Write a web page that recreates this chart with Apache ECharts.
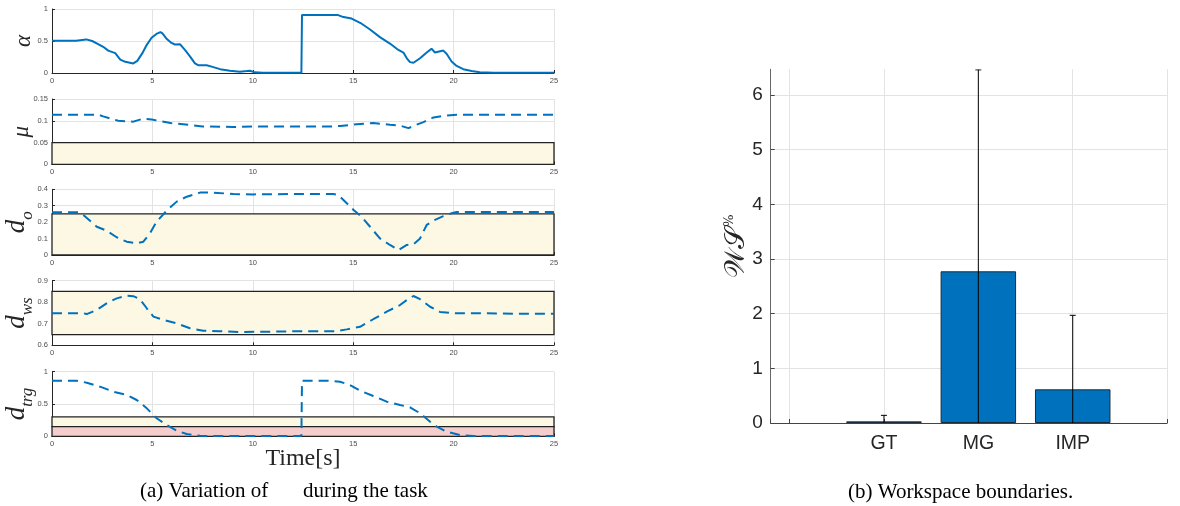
<!DOCTYPE html>
<html><head><meta charset="utf-8">
<script src="https://cdn.jsdelivr.net/npm/echarts@6/dist/echarts.min.js"></script>
<style>html,body{margin:0;padding:0;background:#fff}#c{width:1180px;height:506px}</style>
</head><body><div id="c"></div>
<script>
// ---------- data ----------
const timeTicks = [0, 5, 10, 15, 20, 25];
const alphaData = [[0,0.505],[1.2,0.505],[1.7,0.525],[2.0,0.5],[2.25,0.46],[2.55,0.41],[2.8,0.35],[3.15,0.31],[3.4,0.21],[3.65,0.175],[4.05,0.15],[4.25,0.19],[4.5,0.31],[4.72,0.44],[4.96,0.55],[5.2,0.61],[5.4,0.64],[5.5,0.62],[5.72,0.53],[5.95,0.47],[6.12,0.445],[6.37,0.45],[6.62,0.36],[6.87,0.26],[7.12,0.15],[7.3,0.12],[7.7,0.12],[7.95,0.1],[8.37,0.06],[8.86,0.035],[9.36,0.02],[9.7,0.03],[9.86,0.035],[10.1,0.01],[10.5,0.003],[12.42,0.003],[12.45,0.905],[14.25,0.905],[14.45,0.88],[14.92,0.85],[15.42,0.77],[15.84,0.68],[16.33,0.56],[16.83,0.46],[17.25,0.36],[17.5,0.32],[17.67,0.23],[17.83,0.17],[18.0,0.16],[18.33,0.23],[18.66,0.32],[18.9,0.38],[19.07,0.32],[19.49,0.35],[19.65,0.3],[19.9,0.18],[20.15,0.11],[20.48,0.06],[20.9,0.03],[21.3,0.01],[22,0.002],[25,0.002]];
const muData = [[0,0.114],[2.3,0.114],[2.55,0.11],[3.3,0.1],[4.05,0.098],[4.55,0.105],[4.96,0.103],[5.9,0.095],[6.9,0.09],[7.5,0.087],[9,0.0857],[10.3,0.087],[14.0,0.087],[14.35,0.088],[15.17,0.092],[16.0,0.0946],[16.83,0.091],[17.33,0.089],[17.75,0.083],[18.16,0.091],[18.5,0.097],[19.0,0.1076],[19.65,0.112],[20.15,0.114],[25,0.114]];
const doData = [[0,0.26],[1.3,0.26],[1.56,0.244],[2.23,0.172],[2.72,0.148],[3.22,0.108],[3.72,0.081],[4.22,0.071],[4.55,0.081],[4.88,0.132],[5.21,0.203],[5.71,0.27],[6.21,0.325],[6.71,0.355],[7.37,0.38],[8.03,0.38],[9.03,0.371],[10.03,0.369],[12,0.371],[14.0,0.371],[14.26,0.365],[14.68,0.315],[15.02,0.274],[15.42,0.233],[15.84,0.172],[16.33,0.101],[16.83,0.061],[17.25,0.03],[17.67,0.061],[18.0,0.065],[18.33,0.101],[18.66,0.183],[18.99,0.209],[19.49,0.237],[19.9,0.254],[20.15,0.262],[25,0.262]];
const dwsData = [[0,0.749],[1.56,0.749],[1.73,0.745],[2.23,0.764],[2.72,0.795],[3.22,0.818],[3.72,0.83],[4.05,0.828],[4.38,0.814],[4.72,0.772],[5.05,0.733],[5.55,0.718],[6.21,0.702],[6.87,0.679],[7.53,0.668],[8.37,0.665],[9.36,0.662],[10.7,0.663],[12,0.665],[14.1,0.665],[14.68,0.674],[15.34,0.686],[16.0,0.721],[16.67,0.756],[17.33,0.787],[17.67,0.81],[18.0,0.829],[18.33,0.814],[18.83,0.779],[19.32,0.755],[20,0.749],[21.3,0.749],[23,0.747],[25,0.747]];
const dtrgData = [[0,0.86],[1.23,0.86],[1.73,0.83],[2.39,0.768],[3.06,0.69],[3.72,0.64],[4.22,0.562],[4.72,0.433],[5.21,0.279],[5.71,0.175],[6.21,0.087],[6.71,0.036],[7.37,0.008],[8,0.003],[12.42,0.003],[12.45,0.86],[13.76,0.86],[14.34,0.845],[14.84,0.794],[15.34,0.706],[16.0,0.624],[16.67,0.536],[17.33,0.485],[17.83,0.449],[18.33,0.356],[18.83,0.226],[19.16,0.149],[19.65,0.071],[20.32,0.02],[20.98,0.005],[25,0.003]];
const muBand = [[0, 0.05]];
const doBand = [[0, 0.25]];
const dwsBand = [[0.65, 0.85]];
const dtrgBandYellow = [[0.15, 0.3]];
const dtrgBandRed = [[0, 0.15]];
const categories = ['GT', 'MG', 'IMP'];
const catPos = [1, 2, 3];
const wsMean = [0.03, 2.775, 0.616];
const wsErr = [0.11, 3.685, 1.354];

// ---------- layout ----------
const blue = '#0072BD';
const yellow = '#FDF8E4';
const pink = '#F5CDCD';
const leftX = 52, leftW = 502;
const tops = [9, 99, 189.3, 280.7, 371.7];
const heights = [64, 65.3, 65.7, 64.6, 64.6];
const serif = 'Liberation Serif';
const nameRich = {
  i: {fontFamily: serif, fontStyle: 'italic', fontSize: 23, color: '#262626'},
  d: {fontFamily: serif, fontStyle: 'italic', fontSize: 27, color: '#262626', verticalAlign: 'bottom', padding: [0, 0, 6, 0]},
  s: {fontFamily: serif, fontStyle: 'italic', fontSize: 17, color: '#262626', verticalAlign: 'bottom'}
};
const panels = [
  {data: alphaData, min: 0, max: 1, interval: 0.5, name: '{i|α}', gap: 17, dashed: false, bands: []},
  {data: muData, min: 0, max: 0.15, interval: 0.05, name: '{i|μ}', gap: 19, dashed: true, bands: [[muBand, yellow]]},
  {data: doData, min: 0, max: 0.4, interval: 0.1, name: '{d|d}{s|o}', gap: 16, dashed: true, bands: [[doBand, yellow]]},
  {data: dwsData, min: 0.6, max: 0.9, interval: 0.1, name: '{d|d}{s|ws}', gap: 16, dashed: true, bands: [[dwsBand, yellow]]},
  {data: dtrgData, min: 0, max: 1, interval: 0.5, name: '{d|d}{s|trg}', gap: 16, dashed: true, bands: [[dtrgBandYellow, yellow], [dtrgBandRed, pink]]}
];

const grid = [], xAxis = [], yAxis = [], series = [];
panels.forEach((p, k) => {
  grid.push({left: leftX, top: tops[k], width: leftW, height: heights[k], outerBoundsMode: 'none', containLabel: false});
  xAxis.push({
    type: 'value', gridIndex: k, min: timeTicks[0], max: timeTicks[timeTicks.length - 1], interval: 5,
    axisLine: {show: true, onZero: false, lineStyle: {color: '#262626', width: 1}},
    axisTick: {show: true, inside: true, length: 3, lineStyle: {color: '#262626'}},
    axisLabel: {fontSize: 7.5, color: '#4d4d4d', margin: 4, fontFamily: 'Liberation Sans'},
    splitLine: {show: true, lineStyle: {color: '#e3e3e3', width: 1}},
    name: k === 4 ? 'Time[s]' : '', nameLocation: 'middle', nameGap: 10, nameMoveOverlap: false,
    nameTextStyle: {fontFamily: serif, fontSize: 24, color: '#262626', verticalAlign: 'top'}
  });
  yAxis.push({
    type: 'value', gridIndex: k, min: p.min, max: p.max, interval: p.interval,
    axisLine: {show: true, onZero: false, lineStyle: {color: '#262626', width: 1}},
    axisTick: {show: true, inside: true, length: 3, lineStyle: {color: '#262626'}},
    axisLabel: {fontSize: 7.5, color: '#4d4d4d', margin: 4, fontFamily: 'Liberation Sans'},
    splitLine: {show: true, lineStyle: {color: '#e3e3e3', width: 1}},
    name: p.name, nameLocation: 'middle', nameRotate: 90, nameGap: p.gap, nameMoveOverlap: false,
    nameTextStyle: {rich: nameRich}
  });
  p.bands.forEach(([band, col]) => {
    series.push({
      type: 'line', xAxisIndex: k, yAxisIndex: k, data: [], z: 1, silent: true,
      markArea: {
        silent: true,
        itemStyle: {color: col, opacity: 1, borderColor: '#222', borderWidth: 1.3},
        data: band.map(b => [{xAxis: timeTicks[0], yAxis: b[0]}, {xAxis: timeTicks[timeTicks.length - 1], yAxis: b[1]}])
      }
    });
  });
  series.push({
    type: 'line', xAxisIndex: k, yAxisIndex: k, data: p.data, showSymbol: false, z: 5,
    lineStyle: {color: blue, width: 2, type: p.dashed ? [10, 6] : 'solid'},
    smooth: false, animation: false
  });
});

// right chart
const R = 5;
grid.push({left: 770.7, top: 69.3, width: 396.4, height: 353.7, outerBoundsMode: 'none', containLabel: false});
xAxis.push({
  type: 'value', gridIndex: R, min: -0.2, max: 4,
  axisLine: {show: true, onZero: false, lineStyle: {color: '#444', width: 1}},
  axisTick: {show: true, inside: true, length: 4, lineStyle: {color: '#444'}},
  axisLabel: {fontSize: 19.5, color: '#262626', margin: 11, fontFamily: 'Liberation Sans',
    formatter: v => { const i = catPos.indexOf(Math.round(v * 1000) / 1000); return i >= 0 ? categories[i] : ''; }},
  splitLine: {show: true, showMinLine: false, lineStyle: {color: '#e3e3e3', width: 1}}
});
yAxis.push({
  type: 'value', gridIndex: R, min: 0, max: 6.47, interval: 1,
  axisLine: {show: true, onZero: false, lineStyle: {color: '#666', width: 1}},
  axisTick: {show: true, inside: true, length: 4, lineStyle: {color: '#444'}},
  axisLabel: {fontSize: 19, color: '#262626', margin: 8, fontFamily: 'Liberation Sans', showMaxLabel: false},
  splitLine: {show: true, showMaxLine: false, lineStyle: {color: '#e3e3e3', width: 1}},
  name: '{a|𝒲𝒮}{b|%}', nameLocation: 'middle', nameRotate: 90, nameGap: 20, nameMoveOverlap: false,
  nameTextStyle: {rich: {
    a: {fontFamily: 'DejaVu Serif', fontSize: 28, color: '#262626', verticalAlign: 'bottom'},
    b: {fontFamily: 'DejaVu Serif', fontSize: 13, color: '#262626', verticalAlign: 'top'}
  }}
});
series.push({
  type: 'bar', xAxisIndex: R, yAxisIndex: R, barWidth: 75.5,
  data: catPos.map((x, i) => [x, wsMean[i]]),
  itemStyle: {color: blue, borderColor: '#1c2b3a', borderWidth: 1}, z: 2, animation: false
});
series.push({
  type: 'custom', xAxisIndex: R, yAxisIndex: R, clip: true, z: 4, animation: false,
  data: catPos.map((x, i) => [x, wsMean[i] - wsErr[i], wsMean[i] + wsErr[i]]),
  encode: {x: 0, y: [1, 2]},
  renderItem: (params, api) => {
    const x = api.value(0);
    const hi = api.coord([x, api.value(2)]);
    const lo = api.coord([x, api.value(1)]);
    const hw = 3;
    const st = {stroke: '#000', lineWidth: 1};
    return {type: 'group', children: [
      {type: 'line', shape: {x1: hi[0], y1: hi[1], x2: lo[0], y2: lo[1]}, style: st},
      {type: 'line', shape: {x1: hi[0] - hw, y1: hi[1], x2: hi[0] + hw, y2: hi[1]}, style: st},
      {type: 'line', shape: {x1: lo[0] - hw, y1: lo[1], x2: lo[0] + hw, y2: lo[1]}, style: st}
    ]};
  }
});

const capStyle = {fontFamily: serif, fontSize: 21, fill: '#000', textVerticalAlign: 'middle'};
const option = {
  backgroundColor: '#fff',
  animation: false,
  grid, xAxis, yAxis, series,
  graphic: [
    {type: 'text', left: 140, top: 481, style: Object.assign({text: '(a) Variation of'}, capStyle)},
    {type: 'text', left: 303, top: 481, style: Object.assign({text: 'during the task'}, capStyle)},
    {type: 'text', left: 848, top: 482, style: Object.assign({text: '(b) Workspace boundaries.'}, capStyle)}
  ]
};
const chart = echarts.init(document.getElementById('c'), null, {renderer: 'canvas'});
chart.setOption(option);
</script></body></html>
